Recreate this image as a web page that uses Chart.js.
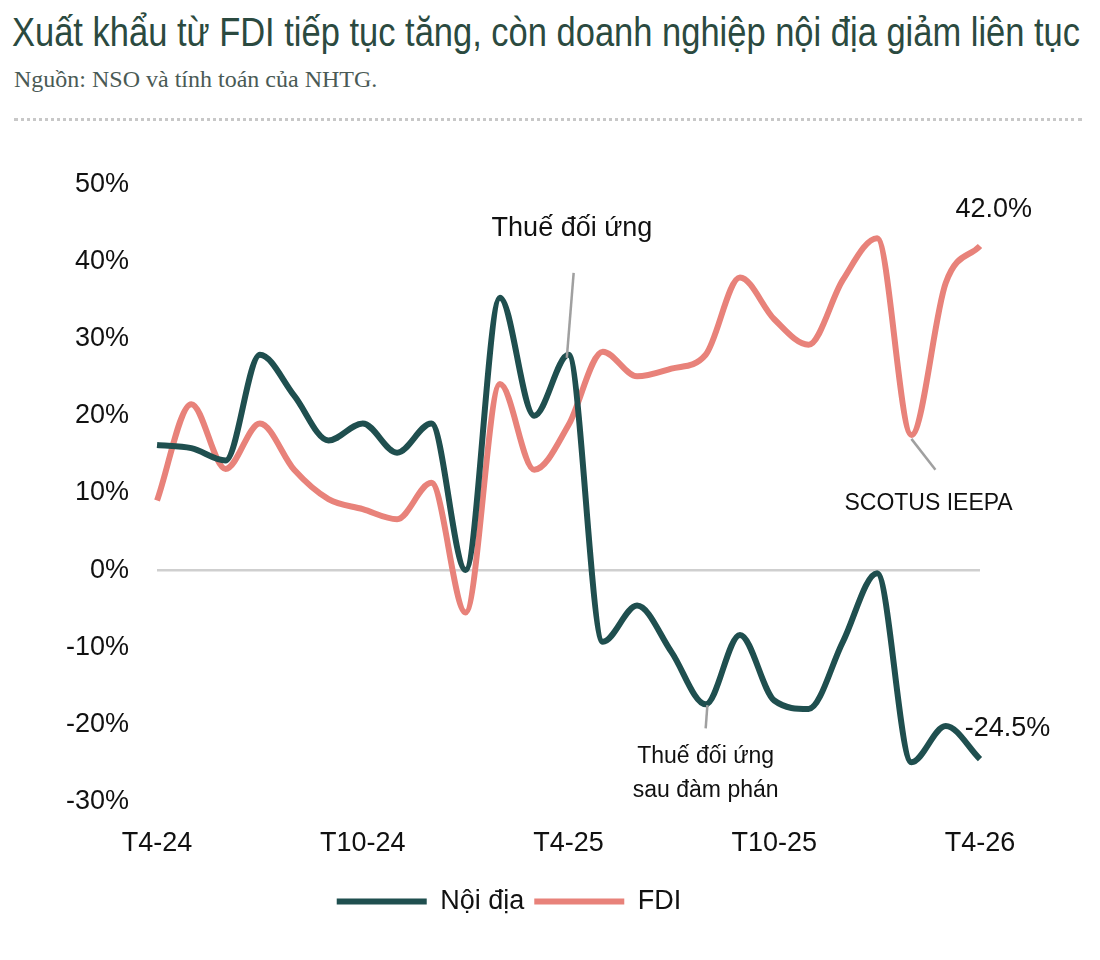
<!DOCTYPE html>
<html><head><meta charset="utf-8">
<script src="https://cdn.jsdelivr.net/npm/chart.js@4.4.1/dist/chart.umd.min.js"></script>
<style>
body{margin:0;background:#fff;width:1100px;height:960px;overflow:hidden;font-family:"Liberation Sans",Arial,sans-serif}
#t{position:absolute;left:12px;top:10px;font-family:"Liberation Sans",Arial,sans-serif;font-size:40px;color:#2b4a40;white-space:nowrap;transform-origin:0 0;display:inline-block}
#s{position:absolute;left:14px;top:66px;font-family:"Liberation Serif",serif;font-size:24px;color:#4a5a55}
#d{position:absolute;left:14px;right:18px;top:118px;border-top:3px dotted #c8c8c8}
#w{position:absolute;left:0;top:140px;width:1100px;height:820px}
</style></head><body>
<div id="t">Xuất khẩu từ FDI tiếp tục tăng, còn doanh nghiệp nội địa giảm liên tục</div>
<div id="s">Nguồn: NSO và tính toán của NHTG.</div>
<div id="d"></div>
<div id="w"><canvas id="c"></canvas></div>
<script>
const months=["T4-24","T5-24","T6-24","T7-24","T8-24","T9-24","T10-24","T11-24","T12-24","T1-25","T2-25","T3-25","T4-25","T5-25","T6-25","T7-25","T8-25","T9-25","T10-25","T11-25","T12-25","T1-26","T2-26","T3-26","T4-26"];
const noiDia=[16.2,15.8,14.2,27.9,22.6,16.8,19,15.2,19,0,35.3,20,27.9,-9.3,-4.6,-10.6,-17.4,-8.4,-16.9,-18,-9.3,-0.4,-24.9,-20.2,-24.5];
const fdi=[9,21.5,13.1,19,13,9.2,7.9,6.6,11.3,-5.5,24.1,13,18.8,28.3,25.1,26.1,27.9,37.9,32.5,29.2,37.6,43,17.5,37.2,42];
const shownTicks=["T4-24","T10-24","T4-25","T10-25","T4-26"];
const yTicks=[50,40,30,20,10,0,-10,-20,-30];

const t=document.getElementById('t');
t.style.transform='scaleX('+(1068/t.getBoundingClientRect().width)+')';

const ann={id:'ann',afterDatasetsDraw(ch){
 const c=ch.ctx,x=ch.scales.x,y=ch.scales.y;
 c.save();c.strokeStyle='#a0a0a0';c.lineWidth=2.5;
 const ln=(x1,y1,x2,y2)=>{c.beginPath();c.moveTo(x1,y1);c.lineTo(x2,y2);c.stroke();};
 ln(x.getPixelForValue(12.15),y.getPixelForValue(38.5),x.getPixelForValue(11.95),y.getPixelForValue(27.5));
 ln(x.getPixelForValue(16.05),y.getPixelForValue(-17.5),x.getPixelForValue(16),y.getPixelForValue(-20.5));
 ln(x.getPixelForValue(22),y.getPixelForValue(17),x.getPixelForValue(22.7),y.getPixelForValue(13));
 c.fillStyle='#111';c.font='27px "Liberation Sans",Arial';c.textAlign='center';c.textBaseline='middle';
 c.fillText('Thuế đối ứng',x.getPixelForValue(12.1),y.getPixelForValue(44.2));
 c.fillText('42.0%',x.getPixelForValue(24.4),y.getPixelForValue(46.7));
 c.fillText('-24.5%',x.getPixelForValue(24.8),y.getPixelForValue(-20.5));
 c.font='23px "Liberation Sans",Arial';
 c.fillText('Thuế đối ứng',x.getPixelForValue(16),y.getPixelForValue(-24.2));
 c.fillText('sau đàm phán',x.getPixelForValue(16),y.getPixelForValue(-28.6));
 c.fillText('SCOTUS IEEPA',x.getPixelForValue(22.5),y.getPixelForValue(8.6));
 c.restore();
}};

new Chart(document.getElementById('c'),{type:'line',
 data:{labels:months,datasets:[
  {label:'Nội địa',data:noiDia,borderColor:'#1f4f4f',backgroundColor:'#1f4f4f',borderWidth:6,tension:0.4,pointRadius:0,cubicInterpolationMode:'monotone'},
  {label:'FDI',data:fdi,borderColor:'#e8827a',backgroundColor:'#e8827a',borderWidth:6,tension:0.4,pointRadius:0,cubicInterpolationMode:'monotone'}]},
 options:{responsive:true,maintainAspectRatio:false,animation:false,
  layout:{padding:{left:38,right:120,top:42,bottom:35}},
  plugins:{legend:{position:'bottom',labels:{usePointStyle:true,pointStyle:'line',pointStyleWidth:90,font:{size:27,family:'"Liberation Sans",Arial'},color:'#111',padding:10}},tooltip:{enabled:false}},
  scales:{
   x:{offset:false,grid:{display:false},border:{display:false},
      ticks:{autoSkip:false,maxRotation:0,font:{size:27,family:'"Liberation Sans",Arial'},color:'#111',padding:18,
        callback(v){const l=months[v];return shownTicks.includes(l)?l:null;}}},
   y:{min:-30,max:50,border:{display:false},
      grid:{color:c=>c.tick.value===0?'#cfcfcf':'transparent',lineWidth:2.5,drawTicks:false},
      afterBuildTicks(s){s.ticks=yTicks.map(v=>({value:v}));},
      ticks:{font:{size:27,family:'"Liberation Sans",Arial'},color:'#111',padding:28,callback:v=>v+'%'}}
  }},
 plugins:[ann]});
</script></body></html>
